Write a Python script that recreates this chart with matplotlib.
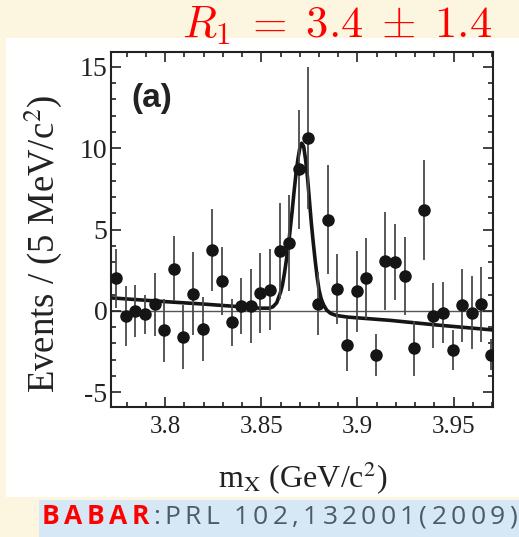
import matplotlib
matplotlib.use("Agg")
import matplotlib.pyplot as plt
from matplotlib.patches import Rectangle
from matplotlib.ticker import MultipleLocator

# bin centres (5 MeV bins) and events
mass = [3.7745, 3.7795, 3.7845, 3.7895, 3.7945, 3.7995, 3.8045, 3.8095,
        3.8145, 3.8195, 3.8245, 3.8295, 3.8345, 3.8395, 3.8445, 3.8495,
        3.8545, 3.8595, 3.8645, 3.8695, 3.8745, 3.8795, 3.8845, 3.8895,
        3.8945, 3.8995, 3.9045, 3.9095, 3.9145, 3.9195, 3.9245, 3.9295,
        3.9345, 3.9395, 3.9445, 3.9495, 3.9545, 3.9595, 3.9645, 3.9695]
events = [2.0, -0.3, 0.0, -0.2, 0.4, -1.2, 2.6, -1.6, 1.05, -1.1,
          3.75, 1.85, -0.7, 0.3, 0.3, 1.1, 1.3, 3.7, 4.15, 8.7,
          10.6, 0.45, 5.6, 1.35, -2.1, 1.2, 2.0, -2.7, 3.05, 3.0,
          2.15, -2.3, 6.2, -0.3, -0.1, -2.4, 0.35, -0.1, 0.4, -2.7]
errors = [1.8, 1.85, 1.6, 1.2, 1.95, 1.95, 2.0, 1.95, 2.55, 1.95,
          2.5, 2.1, 1.45, 1.7, 2.3, 2.45, 2.5, 2.95, 2.95, 3.65,
          4.35, 1.95, 3.35, 2.15, 1.6, 2.5, 2.5, 1.3, 3.0, 2.35,
          2.4, 1.7, 3.05, 2.0, 1.85, 1.25, 2.25, 2.25, 2.3, 0.95]

# fit curve, points
fit_x = [3.7718, 3.7745, 3.80, 3.82, 3.8385, 3.849, 3.854, 3.856, 3.858,
         3.860, 3.861, 3.862, 3.863, 3.864, 3.865, 3.866, 3.867, 3.868,
         3.869, 3.870, 3.871, 3.872, 3.873, 3.874, 3.875, 3.876, 3.877,
         3.878, 3.879, 3.880, 3.881, 3.882, 3.884, 3.886, 3.889, 3.895,
         3.905, 3.917, 3.94, 3.9705]
fit_y = [0.80, 0.78, 0.57, 0.42, 0.26, 0.17, 0.17, 0.25, 0.5,
         1.15, 1.6, 2.3, 3.1, 3.9, 5.0, 6.1, 7.3, 8.4,
         9.3, 10.0, 10.3, 10.1, 9.3, 8.2, 6.8, 5.4, 4.2,
         3.1, 2.1, 1.3, 0.8, 0.45, 0.05, -0.15, -0.28, -0.38,
         -0.47, -0.58, -0.85, -1.17]

xticks = [3.8, 3.85, 3.9, 3.95]
xtick_labels = ["3.8", "3.85", "3.9", "3.95"]
yticks = [-5, 0, 5, 10, 15]

plt.rcParams["font.family"] = "Liberation Serif"
plt.rcParams["mathtext.fontset"] = "stix"
plt.rcParams["axes.unicode_minus"] = False

W, H = 519, 537
fig = plt.figure(figsize=(W / 100, H / 100), dpi=100)
fig.patch.set_facecolor("#fcf5df")


def fx(px):
    return px / W


def fy(py):
    return 1 - py / H


# white panel behind the plot
fig.add_artist(Rectangle((fx(6), fy(497)), fx(519) - fx(6), fy(38) - fy(497),
                         transform=fig.transFigure, facecolor="white",
                         edgecolor="none", zorder=0))
# blue reference box
fig.add_artist(Rectangle((fx(39), fy(537)), fx(519) - fx(39), fy(500) - fy(537),
                         transform=fig.transFigure, facecolor="#d6e8f5",
                         edgecolor="none", zorder=0))

ax = fig.add_axes([fx(111), fy(407), fx(493) - fx(111), fy(52) - fy(407)])
ax.set_facecolor("white")

ax.axhline(0, color="#555555", lw=1.0, zorder=1)
ax.plot(fit_x, fit_y, color="#151515", lw=2.6, zorder=2)
ax.errorbar(mass, events, yerr=errors, fmt="o", color="#151515",
            ecolor="#4a4a4a", elinewidth=1.3, markersize=8, capsize=0,
            zorder=3)

ax.set_xlim(3.7718, 3.9705)
ax.set_ylim(-5.9, 15.9)
ax.set_xticks(xticks, labels=xtick_labels)
ax.set_yticks(yticks)
ax.xaxis.set_minor_locator(MultipleLocator(0.01))
ax.yaxis.set_minor_locator(MultipleLocator(1))
ax.tick_params(which="both", direction="in", top=True, right=True,
               width=1.2, color="#222222", labelcolor="#222222")
ax.tick_params(which="major", length=7)
ax.tick_params(which="minor", length=3.6)
ax.tick_params(axis="x", pad=6.5, labelsize=18)
ax.tick_params(axis="y", pad=2.5, labelsize=20)
for s in ax.spines.values():
    s.set_linewidth(1.5)
    s.set_color("#222222")

fig.text(fx(43), fy(244), "Events / (5 MeV/c$^2$)", rotation=90,
         ha="center", va="center", fontsize=26.5, color="#222222")
fig.text(fx(303), fy(478), r"m$_{\rm X}$ (GeV/c$^2$)", ha="center",
         va="center", fontsize=23, color="#222222")
fig.text(fx(152), fy(98), "(a)", ha="center", va="center", fontsize=24,
         fontweight="bold", family="Liberation Sans", color="#222222")

fig.text(fx(492), fy(37), r"$R_1 \;=\; 3.4 \;\pm\; 1.4$", ha="right",
         va="baseline", fontsize=32, color="red", math_fontfamily="cm")

# reference line with letter spacing, one char at a time
r = fig.canvas.get_renderer()
parts = [(ch, "red", "bold") for ch in "BABAR"] + \
        [(ch, "#4b5b67", "normal") for ch in ":PRL 102,132001(2009)"]
texts, widths = [], []
for ch, col, wt in parts:
    t = fig.text(0, fy(524), ch, color=col, fontweight=wt, fontsize=19,
                 family="Open Sans", ha="left", va="baseline")
    texts.append(t)
    widths.append(6 if ch == " " else t.get_window_extent(renderer=r).width)
gap = (517 - 42 - sum(widths)) / (len(parts) - 1)
x = 42
for t, w in zip(texts, widths):
    t.set_x(fx(x))
    x += w + gap

fig.savefig("out.png", dpi=100, facecolor=fig.get_facecolor())
